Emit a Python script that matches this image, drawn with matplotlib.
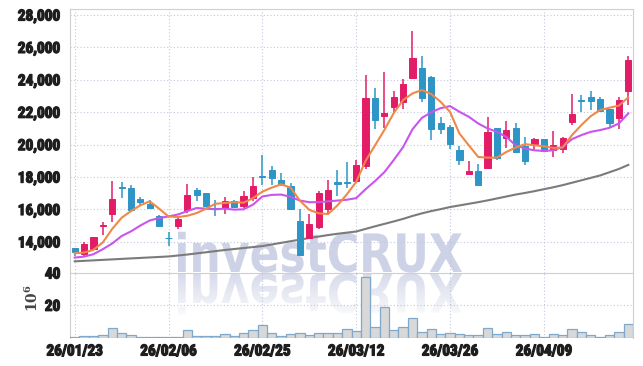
import numpy as np
import matplotlib
matplotlib.use("Agg")
import matplotlib.pyplot as plt
import matplotlib.patheffects as pe
from matplotlib.textpath import TextPath
from matplotlib.font_manager import FontProperties
from matplotlib.patches import PathPatch
from matplotlib.transforms import Affine2D
from matplotlib.ticker import FuncFormatter, FixedLocator

plt.rcParams['font.family'] = ['Roboto Condensed', 'Liberation Sans', 'DejaVu Sans']
plt.rcParams['font.weight'] = 'bold'
plt.rcParams['mathtext.fontset'] = 'dejavuserif'

# daily candles, 60 trading days
tick_idx = [0, 10, 20, 30, 40, 50]
tick_labels = ['26/01/23', '26/02/06', '26/02/25', '26/03/12', '26/03/26', '26/04/09']

opens = [13600, 13250, 13580, 14950, 15750, 17400, 17300, 16640, 16340, 15590,
         14260, 15000, 15950, 17200, 17040, 16060, 16100, 16530, 16230, 16720,
         18060, 18450, 17830, 17420, 15300, 14270, 14890, 16030, 17690, 17700,
         17740, 18660, 22850, 21770, 22330, 22640, 24130, 24720, 24150, 21360,
         21090, 19650, 18170, 18350, 18560, 21000, 20420, 21000, 19900, 20070,
         20340, 19700, 19760, 21370, 22730, 22920, 22820, 22200, 21620, 23290]
highs = [13620, 14000, 14320, 15220, 17750, 17700, 17480, 16750, 16600, 15650,
         14580, 15500, 17570, 17330, 17040, 16560, 16780, 16580, 17120, 18030,
         19380, 18700, 18250, 17630, 16020, 15700, 17160, 17800, 18450, 18930,
         19070, 24300, 23470, 24470, 23300, 24030, 27000, 25480, 24240, 21710,
         21200, 19900, 18970, 18830, 21680, 21000, 21480, 21310, 20480, 20420,
         20360, 20850, 20480, 23130, 23070, 23280, 22920, 22200, 22970, 25460]
lows = [13100, 13150, 13560, 14400, 15250, 16700, 15850, 16200, 16050, 14900,
        13760, 14800, 15780, 16550, 16150, 15620, 15700, 16100, 16090, 16500,
        17530, 17530, 17420, 15990, 13100, 14230, 14780, 15700, 16850, 17330,
        17630, 18500, 20980, 21050, 21970, 22230, 24030, 22640, 20300, 20670,
        19720, 18760, 18160, 17540, 18470, 19050, 19820, 19510, 18720, 19610,
        19550, 19240, 19490, 21200, 21990, 22140, 22100, 21100, 20940, 22460]
closes = [13350, 13900, 14280, 15050, 16650, 17350, 15950, 16470, 16090, 14970,
          14230, 15400, 16900, 16920, 16210, 16000, 16530, 16150, 16830, 17450,
          18020, 17950, 17570, 16030, 13160, 15120, 17010, 17220, 17570, 17650,
          18750, 22850, 21540, 21980, 22910, 23740, 25340, 22850, 20960, 20980,
          20010, 19030, 18350, 17540, 20750, 19200, 20900, 19550, 18990, 20340,
          19590, 19960, 20420, 21890, 22670, 22720, 22100, 21310, 22760, 25200]
volume_m = [0.4, 0.9, 0.9, 1.7, 6.1, 3.0, 1.5, 0.2, 0.2, 0.2,
            0.2, 0.2, 4.8, 0.7, 0.7, 1.0, 1.9, 1.0, 2.5, 4.4,
            7.6, 2.5, 1.0, 1.9, 2.5, 1.3, 2.5, 2.5, 2.5, 5.5,
            4.0, 37.3, 6.7, 18.7, 4.4, 6.7, 12.0, 3.2, 5.1, 1.9,
            2.5, 1.9, 1.3, 1.3, 5.7, 2.1, 3.2, 1.3, 1.3, 1.9,
            0.6, 1.9, 1.3, 5.0, 3.3, 1.3, 0.6, 1.3, 3.3, 8.2]
ma_short = [13300, 13340, 13510, 13970, 14800, 15490, 15900, 16260, 16500, 16050,
            15570, 15530, 15610, 15780, 16050, 16350, 16400, 16450, 16420, 16700,
            17100, 17350, 17550, 17350, 16550, 15980, 15760, 15720, 16250, 16930,
            17700, 19000, 19950, 20900, 21950, 22750, 23160, 23370, 23120, 22640,
            22020, 20690, 19960, 19240, 19200, 19200, 19550, 19820, 20030, 19960,
            19900, 19800, 19820, 20590, 21210, 21760, 22140, 22280, 22410, 22920]
ma_mid = [13030, 13090, 13240, 13550, 13900, 14360, 14650, 15010, 15320, 15470,
          15570, 15690, 15900, 16090, 16050, 16010, 16050, 15990, 16010, 16300,
          16800, 16900, 16920, 16780, 16550, 16450, 16450, 16500, 16550, 16600,
          16700, 17250, 17750, 18300, 19050, 19850, 20950, 21650, 22000, 22250,
          22380, 22030, 21720, 21310, 21000, 20790, 20480, 19960, 19760, 19650,
          19610, 19650, 19860, 20340, 20590, 20790, 20900, 21040, 21310, 21930]
ma_long = [12800, 12830, 12860, 12890, 12920, 12950, 12980, 13010, 13040, 13070,
           13100, 13160, 13220, 13290, 13360, 13430, 13500, 13560, 13620, 13680,
           13740, 13840, 13940, 14040, 14140, 14240, 14330, 14420, 14500, 14570,
           14640, 14800, 14960, 15110, 15260, 15420, 15600, 15760, 15900, 16020,
           16150, 16250, 16350, 16450, 16560, 16680, 16800, 16920, 17020, 17130,
           17250, 17370, 17500, 17650, 17800, 17950, 18100, 18300, 18500, 18750]

up_color = '#e31c68'
down_color = '#2e95c7'
grid_color = '#c3c8de'
spine_color = '#cfcfcf'
text_color = '#1e1e1e'
label_kw = dict(labelsize=11, labelcolor=text_color)

fig = plt.figure(figsize=(6.43, 3.66), dpi=100)

# watermark on a background axes in pixel units
bg = fig.add_axes([0, 0, 1, 1], zorder=-1)
bg.set_xlim(0, 643)
bg.set_ylim(366, 0)
bg.axis('off')
tp = TextPath((0, 0), 'investCRUX', size=1, prop=FontProperties(family='DejaVu Sans', weight='bold'))
ext = tp.get_extents()
sx = 284 / ext.width
sy = 53
wm_main = Affine2D().scale(sx, -sy).translate(178 - ext.x0 * sx, 272).transform_path(tp)
bg.add_patch(PathPatch(wm_main, facecolor='#cdd2e6', edgecolor='none'))
wm_refl = Affine2D().scale(sx, sy).translate(178 - ext.x0 * sx, 274).transform_path(tp)
refl_patch = PathPatch(wm_refl, facecolor='none', edgecolor='none')
bg.add_patch(refl_patch)
grad = np.zeros((60, 2, 4))
grad[..., 0] = 205 / 255
grad[..., 1] = 210 / 255
grad[..., 2] = 230 / 255
grad[..., 3] = np.linspace(0.8, 0.0, 60)[:, None]
im = bg.imshow(grad, extent=(170, 470, 322, 274), aspect='auto', interpolation='bilinear')
im.set_clip_path(refl_patch)

ax = fig.add_axes([70 / 643, 1 - 273 / 366, 563 / 643, 264 / 366])
axv = fig.add_axes([70 / 643, 1 - 337.5 / 366, 563 / 643, 64.5 / 366], sharex=ax)
for a in (ax, axv):
    a.set_facecolor('none')

x = np.arange(len(opens))
o = np.array(opens)
c = np.array(closes)
colors = [up_color if cc >= oo else down_color for oo, cc in zip(o, c)]

ax.vlines(x, lows, highs, colors=colors, linewidth=1.1, zorder=3)
ax.bar(x, np.abs(c - o), bottom=np.minimum(o, c), width=0.66, color=colors,
       edgecolor=colors, linewidth=0.7, zorder=4)
ax.plot(x, ma_long, color='#7b7b7b', linewidth=1.5, zorder=2)
ax.plot(x, ma_mid, color='#c955ee', linewidth=1.5, zorder=5)
ax.plot(x, ma_short, color='#f08848', linewidth=1.5, zorder=6)

ax.set_xlim(-0.5, 59.5)
ax.set_ylim(12080, 28370)
ax.set_yticks(range(14000, 28001, 2000))
ax.yaxis.set_major_formatter(FuncFormatter(lambda v, p: f'{int(v):,}'))
ax.xaxis.set_major_locator(FixedLocator(tick_idx))
ax.tick_params(axis='x', labelbottom=False, length=0)
ax.tick_params(axis='y', length=0, pad=7, **label_kw)
ax.grid(True, color=grid_color, linestyle=(0, (1, 2)), linewidth=0.8)
ax.set_axisbelow(True)
for s in ('left', 'top', 'right'):
    ax.spines[s].set_color(spine_color)
ax.spines['bottom'].set_visible(False)

axv.bar(x, volume_m, width=1.0, color='#d8d8d8', edgecolor='#7fa9cc', linewidth=0.9, zorder=3)
axv.set_ylim(0, 40)
axv.set_yticks([20, 40])
axv.set_xticks(tick_idx)
axv.set_xticklabels(tick_labels)
axv.tick_params(axis='both', length=0, **label_kw)
axv.tick_params(axis='y', pad=7)
axv.tick_params(axis='x', pad=5)
axv.grid(True, color=grid_color, linestyle=(0, (1, 2)), linewidth=0.8)
axv.set_axisbelow(True)
for s in ('left', 'top', 'right'):
    axv.spines[s].set_color(spine_color)
axv.spines['bottom'].set_visible(False)
fig.text(32 / 643, 1 - 298 / 366, r'$10^6$', rotation=90, ha='center', va='center',
         fontsize=10, color='#444444', fontweight='normal')

# thicken the tick labels a little (condensed font has no heavy weight)
fig.canvas.draw()
heavy = [pe.withStroke(linewidth=0.9, foreground=text_color)]
for lab in ax.get_yticklabels() + axv.get_yticklabels() + axv.get_xticklabels():
    lab.set_path_effects(heavy)

fig.savefig('out.png', dpi=100)
